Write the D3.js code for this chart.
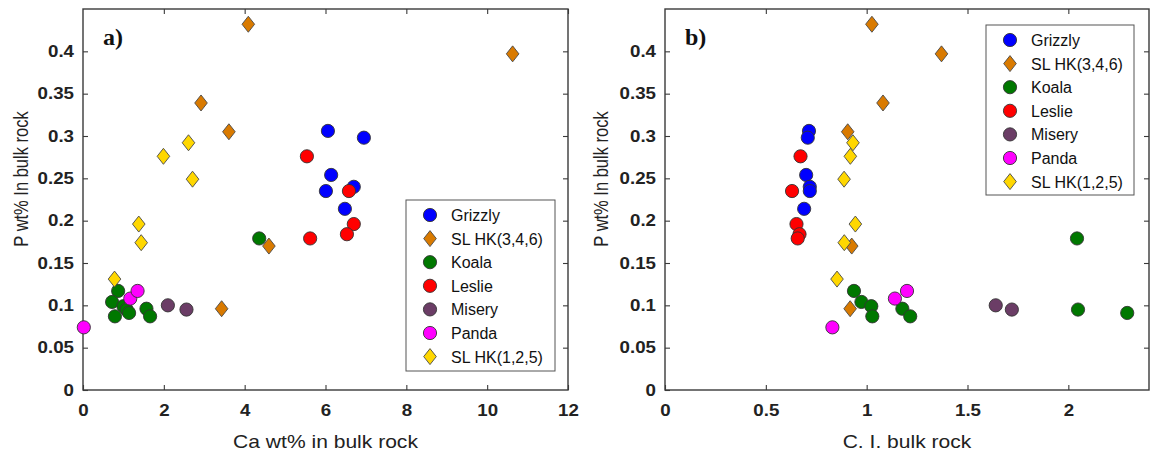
<!DOCTYPE html>
<html>
<head>
<meta charset="utf-8">
<script src="https://cdn.jsdelivr.net/npm/d3@7"></script>
<style>
  body { margin: 0; background: #fff; }
  svg { display: block; }
</style>
</head>
<body>
<svg id="chart" width="1150" height="459"></svg>
<script>
// ---- data: P wt% in bulk rock, Ca wt% in bulk rock, C.I. of bulk rock ----
const seriesNames = ["Grizzly", "SL HK(3,4,6)", "Koala", "Leslie", "Misery", "Panda", "SL HK(1,2,5)"];
const seriesColors = ["#0000ff", "#d97a00", "#007800", "#ff0000", "#6b3d66", "#ff00ff", "#ffd700"];
const seriesShapes = ["circle", "diamond", "circle", "circle", "circle", "circle", "diamond"];

const grizzlyP  = [0.306, 0.298, 0.254, 0.240, 0.235, 0.214];
const grizzlyCa = [6.06, 6.95, 6.14, 6.70, 6.01, 6.48];
const grizzlyCI = [0.714, 0.708, 0.700, 0.718, 0.718, 0.690];

const slhk346P  = [0.432, 0.397, 0.339, 0.305, 0.170, 0.096];
const slhk346Ca = [4.09, 10.63, 2.92, 3.61, 4.60, 3.43];
const slhk346CI = [1.026, 1.371, 1.081, 0.906, 0.926, 0.918];

const koalaP  = [0.179, 0.117, 0.104, 0.099, 0.095, 0.091, 0.087, 0.096, 0.087];
const koalaCa = [4.36, 0.87, 0.72, 1.00, 1.08, 1.14, 0.79, 1.57, 1.66];
const koalaCI = [2.043, 0.937, 0.974, 1.023, 2.048, 2.292, 1.028, 1.177, 1.216];

const leslieP  = [0.276, 0.235, 0.196, 0.184, 0.179];
const leslieCa = [5.54, 6.58, 6.70, 6.53, 5.62];
const leslieCI = [0.672, 0.630, 0.652, 0.667, 0.658];

const miseryP  = [0.100, 0.095];
const miseryCa = [2.10, 2.56];
const miseryCI = [1.64, 1.72];

const pandaP  = [0.074, 0.108, 0.117];
const pandaCa = [0.02, 1.17, 1.35];
const pandaCI = [0.83, 1.14, 1.20];

const slhk125P  = [0.292, 0.276, 0.249, 0.196, 0.174, 0.131];
const slhk125Ca = [2.61, 1.99, 2.71, 1.38, 1.44, 0.78];
const slhk125CI = [0.932, 0.919, 0.888, 0.944, 0.889, 0.853];

const pValues  = [grizzlyP, slhk346P, koalaP, leslieP, miseryP, pandaP, slhk125P];
const caValues = [grizzlyCa, slhk346Ca, koalaCa, leslieCa, miseryCa, pandaCa, slhk125Ca];
const ciValues = [grizzlyCI, slhk346CI, koalaCI, leslieCI, miseryCI, pandaCI, slhk125CI];

const yTicks  = [0, 0.05, 0.1, 0.15, 0.2, 0.25, 0.3, 0.35, 0.4];
const yLabels = ["0", "0.05", "0.1", "0.15", "0.2", "0.25", "0.3", "0.35", "0.4"];
const caTicks  = [0, 2, 4, 6, 8, 10, 12];
const caLabels = ["0", "2", "4", "6", "8", "10", "12"];
const ciTicks  = [0, 0.5, 1, 1.5, 2];
const ciLabels = ["0", "0.5", "1", "1.5", "2"];

// ---- layout ----
const svg = d3.select("#chart");
const axisColor = "#3a3a3a";
const sans = "'Liberation Sans', Arial, sans-serif";
const plotTop = 9, plotBottom = 390;
const stretch = 1.17;   // axis text is drawn slightly wide

const panels = [
  { left: 83, right: 568, domain: [0, 12], ticks: caTicks, labels: caLabels, xs: caValues,
    xTitle: "Ca wt% in bulk rock", tag: "a)", yTitleX: 28,
    legend: { x: 406, y: 200, w: 149, h: 171 } },
  { left: 665, right: 1149, domain: [0, 2.4], ticks: ciTicks, labels: ciLabels, xs: ciValues,
    xTitle: "C. I. bulk rock", tag: "b)", yTitleX: 608,
    legend: { x: 986, y: 25, w: 148, h: 170 } }
];

const diamondPath = "M0,-8L6.3,0L0,8L-6.3,0Z";

function drawMarker(g, shape, color) {
  if (shape === "circle") {
    g.append("circle").attr("r", 6.6)
      .attr("fill", color).attr("stroke", "#333").attr("stroke-width", 0.9);
  } else {
    g.append("path").attr("d", diamondPath)
      .attr("fill", color).attr("stroke", "#4a4a4a").attr("stroke-width", 0.9);
  }
}

panels.forEach(p => {
  const x = d3.scaleLinear().domain(p.domain).range([p.left, p.right]);
  const y = d3.scaleLinear().domain([0, 0.45]).range([plotBottom, plotTop]);
  const g = svg.append("g");

  // axes with inward ticks on all four sides
  const styleAxis = sel => {
    sel.select(".domain").remove();
    sel.selectAll(".tick line").attr("stroke", axisColor).attr("stroke-width", 1.1);
  };
  const xb = g.append("g").attr("transform", `translate(0,${plotBottom})`)
    .call(d3.axisBottom(x).tickValues(p.ticks).tickFormat((d, i) => p.labels[i])
      .tickSizeInner(-5).tickSizeOuter(0).tickPadding(15));
  styleAxis(xb);
  xb.selectAll("text").attr("font-family", sans).attr("font-size", 16)
    .attr("font-weight", "bold").attr("fill", "#222")
    .attr("transform", `scale(${stretch},1)`);

  const xt = g.append("g").attr("transform", `translate(0,${plotTop})`)
    .call(d3.axisTop(x).tickValues(p.ticks.filter(t => t > p.domain[0])).tickFormat("")
      .tickSizeInner(-5).tickSizeOuter(0));
  styleAxis(xt);

  const yl = g.append("g").attr("transform", `translate(${p.left},0)`)
    .call(d3.axisLeft(y).tickValues(yTicks).tickFormat((d, i) => yLabels[i])
      .tickSizeInner(-5).tickSizeOuter(0).tickPadding(9 / stretch));
  styleAxis(yl);
  yl.selectAll("text").attr("font-family", sans).attr("font-size", 16)
    .attr("font-weight", "bold").attr("fill", "#222")
    .attr("transform", `scale(${stretch},1)`);

  const yr = g.append("g").attr("transform", `translate(${p.right},0)`)
    .call(d3.axisRight(y).tickValues(yTicks.filter(t => t > 0)).tickFormat("")
      .tickSizeInner(-5).tickSizeOuter(0));
  styleAxis(yr);

  // frame
  g.append("rect").attr("x", p.left).attr("y", plotTop)
    .attr("width", p.right - p.left).attr("height", plotBottom - plotTop)
    .attr("fill", "none").attr("stroke", axisColor).attr("stroke-width", 1.4);

  // axis titles
  g.append("text")
    .attr("transform", `translate(${(p.left + p.right) / 2},448) scale(${stretch},1)`)
    .attr("text-anchor", "middle").attr("font-family", sans).attr("font-size", 18)
    .attr("fill", "#222").text(p.xTitle);
  g.append("text")
    .attr("transform", `translate(${p.yTitleX},179) scale(1.25,1) rotate(-90)`)
    .attr("text-anchor", "middle").attr("font-family", sans).attr("font-size", 16.5)
    .attr("fill", "#222").text("P wt% In bulk rock");

  // panel tag
  g.append("text").attr("x", p.left + 20).attr("y", 45)
    .attr("font-family", "'Liberation Serif', 'Times New Roman', serif")
    .attr("font-size", 24).attr("font-weight", "bold").attr("fill", "#111").text(p.tag);

  // markers, one series at a time in legend order
  seriesNames.forEach((name, si) => {
    const pts = pValues[si].map((v, i) => ({ xv: p.xs[si][i], yv: v }));
    g.append("g").selectAll("g").data(pts).join("g")
      .attr("transform", d => `translate(${x(d.xv)},${y(d.yv)})`)
      .each(function () { drawMarker(d3.select(this), seriesShapes[si], seriesColors[si]); });
  });

  // legend
  const L = p.legend;
  const lg = g.append("g").attr("transform", `translate(${L.x},${L.y})`);
  lg.append("rect").attr("width", L.w).attr("height", L.h)
    .attr("fill", "#fff").attr("stroke", "#555").attr("stroke-width", 1);
  seriesNames.forEach((name, si) => {
    const row = lg.append("g").attr("transform", `translate(0,${15 + si * 23.6})`);
    const m = row.append("g").attr("transform", "translate(24,0)");
    drawMarker(m, seriesShapes[si], seriesColors[si]);
    row.append("text").attr("x", 45).attr("y", 6)
      .attr("font-family", sans).attr("font-size", 16).attr("fill", "#111").text(name);
  });
});
</script>
</body>
</html>
